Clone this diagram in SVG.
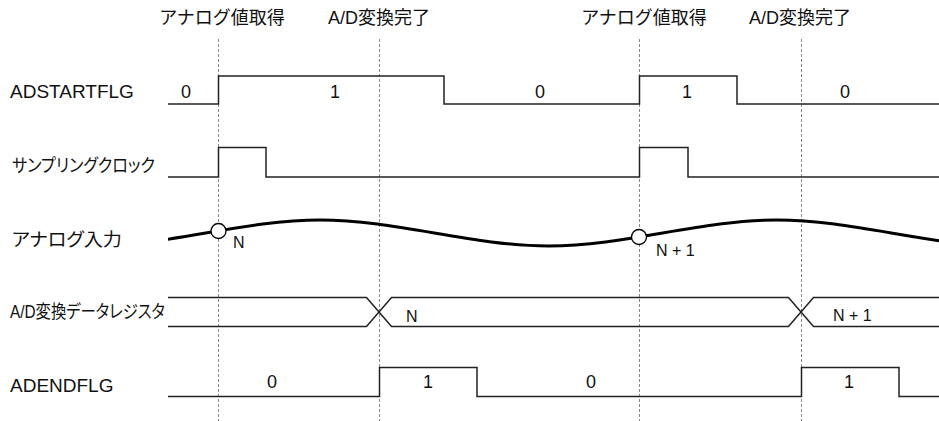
<svg xmlns="http://www.w3.org/2000/svg" width="939" height="421" viewBox="0 0 939 421">
<style>
text{font-family:"Liberation Sans","Noto Sans CJK JP",sans-serif;fill:#111}
.lbl{font-size:19px}
.jp{font-size:18px;font-feature-settings:"palt"}
.top{font-size:18px;text-anchor:middle}
.v{font-size:18px;text-anchor:middle}
.n{font-size:16px}
.w{fill:none;stroke:#222;stroke-width:1.5}
.guide{stroke:#8a8a8a;stroke-width:1;stroke-dasharray:3 2}
.ana{fill:none;stroke:#000;stroke-width:3}
.pt{fill:#fff;stroke:#000;stroke-width:1.3}
</style>
<defs>
<clipPath id="clipA"><rect x="168" y="200" width="771" height="60"/></clipPath>
</defs>
<rect width="939" height="421" fill="#fff"/>
<g id="guides">
<line class="guide" x1="218.5" y1="39" x2="218.5" y2="421"/>
<line class="guide" x1="379.5" y1="39" x2="379.5" y2="421"/>
<line class="guide" x1="639.5" y1="39" x2="639.5" y2="421"/>
<line class="guide" x1="801.5" y1="39" x2="801.5" y2="421"/>
</g>
<g id="events">
<text class="top" x="222" y="24">アナログ値取得</text>
<text class="top" x="379" y="24">A/D変換完了</text>
<text class="top" x="644" y="24">アナログ値取得</text>
<text class="top" x="800" y="24">A/D変換完了</text>
</g>
<g id="adstartflg">
<text class="lbl" x="10" y="98">ADSTARTFLG</text>
<path class="w" d="M168,104 H218.5 V76 H444 V104 H639.5 V76 H737 V104 H939"/>
<text class="v" x="186" y="98">0</text>
<text class="v" x="335" y="98">1</text>
<text class="v" x="540" y="98">0</text>
<text class="v" x="687" y="98">1</text>
<text class="v" x="845" y="98">0</text>
</g>
<g id="sampling-clock">
<text class="jp" x="12" y="172" textLength="143" lengthAdjust="spacingAndGlyphs">サンプリングクロック</text>
<path class="w" d="M168,177 H218.5 V147.5 H266 V177 H639.5 V147.5 H688 V177 H939"/>
</g>
<g id="analog-input">
<text class="jp" x="12" y="245.5" textLength="110" lengthAdjust="spacingAndGlyphs">アナログ入力</text>
<path class="ana" clip-path="url(#clipA)" d="M91.5,246 C167.7,246 243.8,220 320,220 C396.2,220 472.3,246 548.5,246 C624.7,246 700.8,220 777,220 C853.2,220 929.3,246 1005.5,246"/>
<circle class="pt" cx="218.5" cy="231" r="7.5"/>
<circle class="pt" cx="639" cy="237" r="7.5"/>
<text class="n" x="233" y="248">N</text>
<text class="n" x="656" y="256">N + 1</text>
</g>
<g id="ad-data-register">
<text class="jp" x="10" y="317.5" textLength="155" lengthAdjust="spacingAndGlyphs">A/D変換データレジスタ</text>
<path class="w" d="M168,297.5 H366.5 L391.5,326.5 H788.5 L813.5,297.5 H939"/>
<path class="w" d="M168,326.5 H366.5 L391.5,297.5 H788.5 L813.5,326.5 H939"/>
<text class="n" x="406" y="322">N</text>
<text class="n" x="833" y="321">N + 1</text>
</g>
<g id="adendflg">
<text class="lbl" x="10" y="391.5">ADENDFLG</text>
<path class="w" d="M168,396.5 H379.5 V367.5 H477 V396.5 H801.5 V367.5 H899 V396.5 H939"/>
<text class="v" x="272" y="388">0</text>
<text class="v" x="428" y="388">1</text>
<text class="v" x="591" y="388">0</text>
<text class="v" x="849" y="388">1</text>
</g>
</svg>
